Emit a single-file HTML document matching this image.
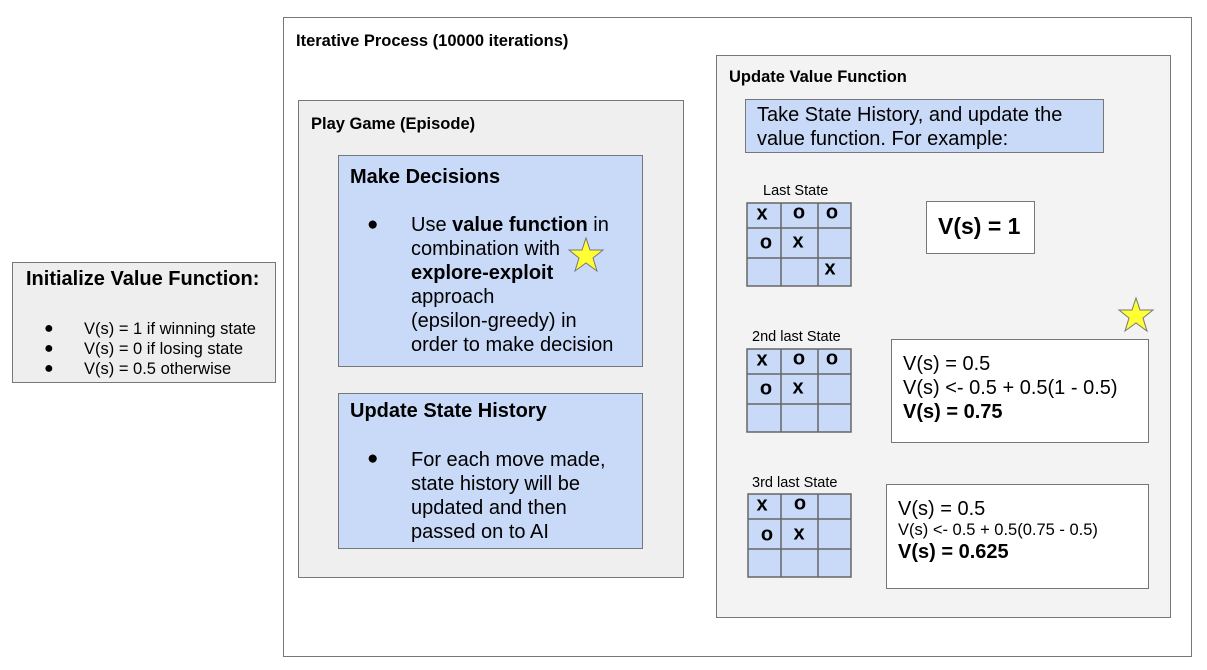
<!DOCTYPE html>
<html><head><meta charset="utf-8"><style>
body{margin:0;width:1207px;height:670px;background:#fff;position:relative;overflow:hidden;font-family:"Liberation Sans",Arial,sans-serif;color:#000}
.b{position:absolute;box-sizing:border-box;border:1.5px solid #777}
.t{position:absolute;white-space:nowrap}
.c{position:absolute;font-weight:bold;font-size:20px;transform:translate(-50%,-50%)}
.blue{background:#c9daf8}
</style></head><body>
<div class="b" style="left:283px;top:17px;width:909px;height:640px;background:#fff"></div>
<div class="t" style="left:296px;top:32px;font-size:16.5px;font-weight:bold">Iterative Process (10000 iterations)</div>

<div class="b" style="left:12px;top:262px;width:264px;height:121px;background:#eee"></div>
<div class="t" style="left:26px;top:268px;font-size:20px;font-weight:bold">Initialize Value Function:</div>
<div class="t" style="left:44px;top:319px;font-size:16px;line-height:20px">●<br>●<br>●</div>
<div class="t" style="left:84px;top:319px;font-size:16.5px;line-height:20px">V(s) = 1 if winning state<br>V(s) = 0 if losing state<br>V(s) = 0.5 otherwise</div>

<div class="b" style="left:298px;top:100px;width:386px;height:478px;background:#efefef"></div>
<div class="t" style="left:311px;top:115px;font-size:16.5px;font-weight:bold">Play Game (Episode)</div>
<div class="b blue" style="left:338px;top:155px;width:305px;height:212px"></div>
<div class="t" style="left:350px;top:166px;font-size:20px;font-weight:bold">Make Decisions</div>
<div class="t" style="left:367px;top:214px;font-size:19px">●</div>
<div class="t" style="left:411px;top:213px;font-size:20px;line-height:24px">Use <b>value function</b> in<br>combination with<br><b>explore-exploit</b><br>approach<br>(epsilon-greedy) in<br>order to make decision</div>
<div class="b blue" style="left:338px;top:393px;width:305px;height:156px"></div>
<div class="t" style="left:350px;top:400px;font-size:20px;font-weight:bold">Update State History</div>
<div class="t" style="left:367px;top:448px;font-size:19px">●</div>
<div class="t" style="left:411px;top:448px;font-size:20px;line-height:24px">For each move made,<br>state history will be<br>updated and then<br>passed on to AI</div>

<div class="b" style="left:716px;top:55px;width:455px;height:563px;background:#f3f3f3"></div>
<div class="t" style="left:729px;top:68px;font-size:16.5px;font-weight:bold">Update Value Function</div>
<div class="b blue" style="left:745px;top:99px;width:359px;height:54px"></div>
<div class="t" style="left:757px;top:103px;font-size:20px;line-height:24px">Take State History, and update the<br>value function. For example:</div>

<div class="t" style="left:763px;top:183px;font-size:14.5px">Last State</div>
<div class="t" style="left:752px;top:329px;font-size:14.5px">2nd last State</div>
<div class="t" style="left:752px;top:475px;font-size:14.5px">3rd last State</div>

<svg style="position:absolute;left:0;top:0" width="1207" height="670">
<g fill="#c9daf8" stroke="#666" stroke-width="1.5">
<rect x="747" y="203" width="104" height="83"/>
<rect x="747" y="349" width="104" height="83"/>
<rect x="748" y="494" width="103" height="83"/>
</g>
<g stroke="#666" stroke-width="1.5">
<path d="M781 203V286M818 203V286M747 228H851M747 258H851"/>
<path d="M781 349V432M818 349V432M747 374H851M747 404H851"/>
<path d="M781 494V577M818 494V577M748 519H851M748 549H851"/>
</g>
<g fill="#ffff33" stroke="#777" stroke-width="1">
<polygon points="586,238 590,250 603,250 593,258 597,271 586,263 575,271 579,258 569,250 582,250"/>
<polygon points="1136,298 1140,310 1153,310 1143,318 1147,331 1136,323 1125,331 1129,318 1119,310 1132,310"/>
</g>
</svg>

<div class="c" style="left:762px;top:214px">x</div><div class="c" style="left:799px;top:213px">o</div><div class="c" style="left:832px;top:213px">o</div>
<div class="c" style="left:766px;top:243px">o</div><div class="c" style="left:798px;top:242px">x</div><div class="c" style="left:830px;top:269px">x</div>

<div class="c" style="left:762px;top:360px">x</div><div class="c" style="left:799px;top:359px">o</div><div class="c" style="left:832px;top:359px">o</div>
<div class="c" style="left:766px;top:389px">o</div><div class="c" style="left:798px;top:388px">x</div>

<div class="c" style="left:762px;top:505px">x</div><div class="c" style="left:800px;top:504px">o</div>
<div class="c" style="left:767px;top:535px">o</div><div class="c" style="left:799px;top:534px">x</div>

<div class="b" style="left:926px;top:201px;width:109px;height:53px;background:#fff"></div>
<div class="t" style="left:938px;top:213px;font-size:23px;font-weight:bold">V(s) = 1</div>

<div class="b" style="left:891px;top:339px;width:258px;height:104px;background:#fff"></div>
<div class="t" style="left:903px;top:352px;font-size:20px;line-height:24px">V(s) = 0.5<br>V(s) &lt;- 0.5 + 0.5(1 - 0.5)<br><b>V(s) = 0.75</b></div>

<div class="b" style="left:886px;top:484px;width:263px;height:105px;background:#fff"></div>
<div class="t" style="left:898px;top:497px;font-size:20px;line-height:24px">V(s) = 0.5</div>
<div class="t" style="left:898px;top:521px;font-size:16.5px">V(s) &lt;- 0.5 + 0.5(0.75 - 0.5)</div>
<div class="t" style="left:898px;top:541px;font-size:20px;font-weight:bold">V(s) = 0.625</div>
</body></html>
